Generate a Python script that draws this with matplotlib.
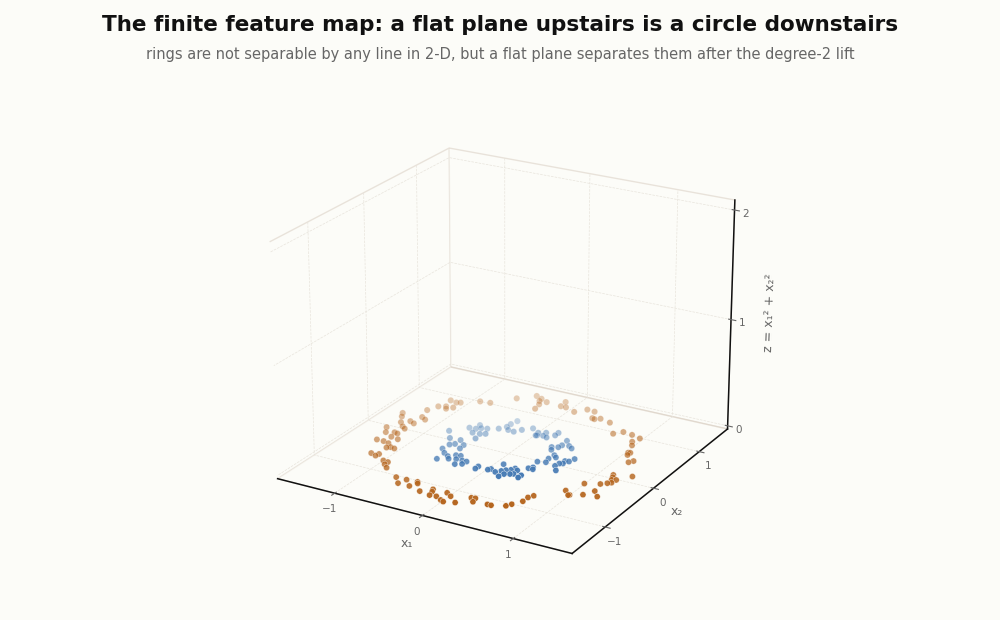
import matplotlib
matplotlib.use("Agg")
import matplotlib.pyplot as plt

# outer ring
outer_x1 = [-1.16,-1.08,-1.04,-0.88,-0.77,-1.19,-1.12,-1.04,-1.09,-1.24,-1.42,-1.38,-1.19,-1.13,-1.24,-1.18,-1.31,-1.24,-1.19,-1.37,-1.31,-1.23,-1.19,-1.20,-1.11,-1.29,-1.21,-1.14,-1.07,-1.02,-1.10,-1.16,-1.09,-1.08,-0.96,-0.90,-0.90,-0.84,-0.64,-0.52,-0.55,-0.42,-0.40,-0.38,-0.27,-0.18,-0.16,-0.14,-0.07,-0.02,0.05,0.01,0.05,0.16,0.24,0.28,0.30,0.45,0.49,-0.59,-0.44,-0.36,-0.35,-0.31,-0.27,-0.29,-0.10,-0.09,-0.03,0.10,0.19,0.28,0.34,0.37,0.42,0.55,0.71,0.78,0.89,1.00,0.97,1.01,1.06,1.08,1.08,1.17,1.20,1.36,1.18,1.20,1.22,1.26,1.22,1.25,1.17,1.03,0.95,1.02,1.03,1.14,1.20,1.28,0.74,0.71,0.71,0.65,0.62]
outer_x2 = [0.80,0.78,0.80,0.93,0.95,0.60,0.64,0.65,0.59,0.46,0.27,0.19,0.28,0.24,0.13,0.10,0.06,-0.02,-0.06,-0.12,-0.23,-0.19,-0.20,-0.30,-0.32,-0.43,-0.43,-0.45,-0.52,-0.53,-0.55,-0.74,-0.77,-0.72,-0.83,-0.84,-0.90,-0.96,-1.10,-1.10,-1.21,-1.21,-1.09,-1.12,-1.26,-1.16,-1.21,-1.29,-1.28,-1.16,-1.21,-1.33,-1.35,-1.31,-1.14,-1.13,-1.21,-1.19,-1.19,1.19,1.35,1.31,1.25,1.17,1.26,1.05,1.36,1.24,1.24,1.18,1.30,1.29,1.13,1.12,1.16,1.12,0.89,0.98,0.96,0.92,0.81,0.73,0.55,0.56,0.50,0.35,0.40,0.07,0.01,-0.04,-0.10,-0.08,-0.19,-0.16,-0.24,-0.31,-0.54,-0.62,-0.61,-0.54,-0.41,-0.51,-0.80,-0.86,-0.96,-1.07,-1.13]
# inner ring
inner_x1 = [-0.77,-0.63,-0.57,-0.56,-0.52,-0.46,-0.54,-0.46,-0.41,-0.44,-0.36,-0.67,-0.59,-0.55,-0.55,-0.46,-0.45,-0.60,-0.53,-0.46,-0.42,-0.52,-0.40,-0.35,-0.35,-0.28,-0.23,-0.24,-0.30,-0.07,-0.07,0.05,0.07,0.14,0.22,-0.29,-0.31,-0.31,-0.26,-0.19,-0.14,-0.06,0.04,0.05,0.06,0.12,0.11,0.17,0.22,0.22,0.39,0.47,0.52,0.40,0.39,0.33,0.36,0.45,0.49,0.44,0.46,0.38,0.67,0.65,0.61,0.62,0.59,0.58,0.64,0.41,0.43,0.38,0.12,0.27,0.31,0.25,0.21,0.18,0.24,0.29,0.32,0.40,0.40]
inner_x2 = [0.12,0.29,0.40,0.30,0.34,0.36,0.20,0.21,0.24,0.09,0.42,-0.03,-0.17,-0.13,-0.02,-0.11,-0.20,-0.29,-0.37,-0.42,-0.47,-0.53,-0.36,-0.35,-0.44,-0.44,-0.44,-0.51,-0.55,-0.54,-0.48,-0.50,-0.47,-0.51,-0.58,0.68,0.58,0.50,0.44,0.43,0.51,0.60,0.53,0.46,0.47,0.49,0.57,0.47,0.56,0.63,0.50,0.40,0.36,0.38,0.32,0.29,0.23,0.13,0.09,0.03,-0.06,-0.09,0.15,0.07,0.06,0.00,-0.02,-0.09,-0.18,-0.23,-0.27,-0.27,-0.31,-0.34,-0.37,-0.39,-0.42,-0.46,-0.51,-0.48,-0.46,-0.45,-0.51]
ticks_xy = [-1, 0, 1]
ticks_z = [0, 1, 2]

BG = "#fcfcf8"
GRAY = "#666666"

fig = plt.figure(figsize=(10, 6.2), dpi=100, facecolor=BG)
ax = fig.add_axes([0, 0.0226, 1, 0.839], projection="3d", facecolor=BG)
ax.view_init(elev=22, azim=-60)

ax.scatter(outer_x1, outer_x2, 0, s=20, c="#b5651d", edgecolors="white", linewidths=0.3)
ax.scatter(inner_x1, inner_x2, 0, s=20, c="#4479b3", edgecolors="white", linewidths=0.3)

ax.set_xlim(-1.67, 1.63)
ax.set_ylim(-1.65, 1.65)
ax.set_zlim(-0.03, 2.09)
ax.set_xticks(ticks_xy)
ax.set_yticks(ticks_xy)
ax.set_zticks(ticks_z)
ax.tick_params(labelsize=7.5, colors=GRAY, pad=-2)
ax.tick_params(axis="z", pad=-3)
ax.set_xlabel("x₁", fontsize=9, color=GRAY, labelpad=-6)
ax.set_ylabel("x₂", fontsize=9, color=GRAY, labelpad=-6)
ax.set_zlabel("z = x₁² + x₂²", fontsize=9, color=GRAY, labelpad=-4)

for axis in (ax.xaxis, ax.yaxis, ax.zaxis):
    axis.pane.set_facecolor(BG)
    axis.pane.set_edgecolor("#d6cabd")
    axis.pane.set_linewidth(1.0)
    axis.line.set_linewidth(1.1)
    axis.line.set_color("#111111")
    axis._axinfo["grid"].update(color="#e8e4dc", linewidth=0.5, linestyle="--")

fig.text(0.5, 0.96, "The finite feature map: a flat plane upstairs is a circle downstairs",
         ha="center", va="center", fontsize=15.45, fontweight="bold", color="#111111")
fig.text(0.5, 0.912, "rings are not separable by any line in 2-D, but a flat plane separates them after the degree-2 lift",
         ha="center", va="center", fontsize=10.5, color=GRAY)

fig.savefig("out.png", facecolor=fig.get_facecolor())
